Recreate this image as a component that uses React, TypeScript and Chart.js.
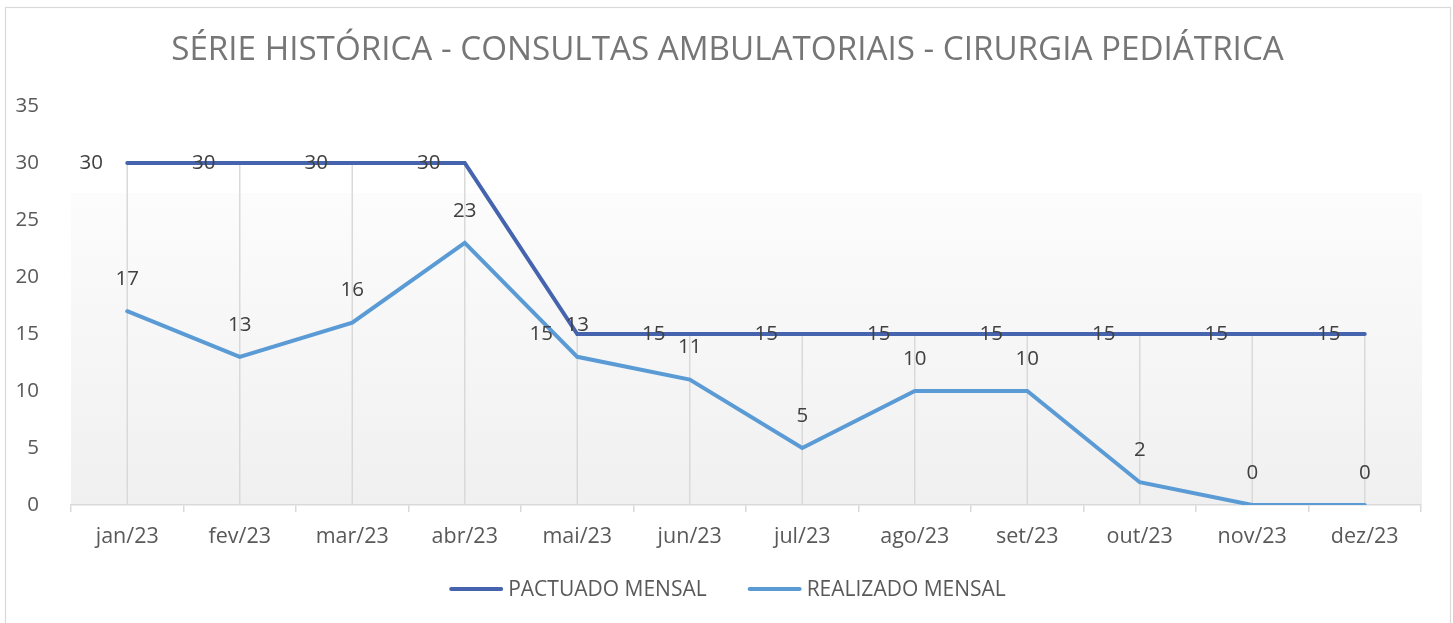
import React, { useEffect, useRef } from "react";
import { Chart, registerables } from "chart.js";

Chart.register(...registerables);

const TITLE = "SÉRIE HISTÓRICA - CONSULTAS AMBULATORIAIS - CIRURGIA PEDIÁTRICA";
const categories = ["jan/23", "fev/23", "mar/23", "abr/23", "mai/23", "jun/23", "jul/23", "ago/23", "set/23", "out/23", "nov/23", "dez/23"];
const pactuado = [30, 30, 30, 30, 15, 15, 15, 15, 15, 15, 15, 15];
const realizado = [17, 13, 16, 23, 13, 11, 5, 10, 10, 2, 0, 0];
const seriesNames = ["PACTUADO MENSAL", "REALIZADO MENSAL"];
const seriesColors = ["#4664AE", "#5B9BD5"];
const yTicks = { min: 0, max: 35, step: 5 };

const FONT = "'Open Sans', 'Noto Sans', sans-serif";

const decorPlugin = {
  id: "decor",
  beforeDraw(chart: any) {
    const { ctx, chartArea, width } = chart;
    ctx.save();
    ctx.fillStyle = "#ffffff";
    ctx.fillRect(0, 0, chart.width, chart.height);
    // outer frame
    ctx.strokeStyle = "#d9d9d9";
    ctx.lineWidth = 1.2;
    ctx.strokeRect(5.5, 7.5, 1445, 700);
    // plot background gradient
    const h = chartArea.bottom - chartArea.top;
    const top = chartArea.top + h * 0.218;
    const g = ctx.createLinearGradient(0, top, 0, chartArea.bottom);
    g.addColorStop(0, "#fcfcfc");
    g.addColorStop(1, "#f0f0f0");
    ctx.fillStyle = g;
    ctx.fillRect(chartArea.left, top, chartArea.right - chartArea.left + 1, chartArea.bottom - top);
    // title
    ctx.fillStyle = "#767676";
    ctx.font = `33.2px ${FONT}`;
    ctx.textAlign = "center";
    ctx.textBaseline = "middle";
    ctx.fillText(TITLE, width / 2 + 1, 51);
    ctx.restore();
  },
  beforeDatasetsDraw(chart: any) {
    const { ctx, chartArea } = chart;
    const m0 = chart.getDatasetMeta(0).data;
    const m1 = chart.getDatasetMeta(1).data;
    ctx.save();
    ctx.strokeStyle = "#d9d9d9";
    ctx.lineWidth = 1.5;
    for (let i = 0; i < m0.length; i++) {
      const y = Math.min(m0[i].y, m1[i].y);
      ctx.beginPath();
      ctx.moveTo(m0[i].x, y);
      ctx.lineTo(m0[i].x, chartArea.bottom);
      ctx.stroke();
    }
    ctx.restore();
  },
  afterDraw(chart: any) {
    const { ctx } = chart;
    ctx.save();
    ctx.font = `20.5px ${FONT}`;
    ctx.fillStyle = "#404040";
    ctx.textBaseline = "middle";
    ctx.textAlign = "center";
    const m0 = chart.getDatasetMeta(0).data;
    const m1 = chart.getDatasetMeta(1).data;
    m0.forEach((p: any, i: number) => {
      ctx.fillText(String(pactuado[i]), p.x - 36, p.y);
    });
    m1.forEach((p: any, i: number) => {
      ctx.fillText(String(realizado[i]), p.x, p.y - 32);
    });
    // legend
    ctx.font = `21px ${FONT}`;
    ctx.fillStyle = "#595959";
    ctx.textAlign = "left";
    const lineW = 54, gap = 5, spacing = 41;
    const widths = seriesNames.map((n) => lineW + gap + ctx.measureText(n).width);
    const total = widths.reduce((a, b) => a + b, 0) + spacing * (widths.length - 1);
    let x = chart.width / 2 + 1 - total / 2;
    const y = 589;
    seriesNames.forEach((n, i) => {
      ctx.strokeStyle = seriesColors[i];
      ctx.lineWidth = 4;
      ctx.lineCap = "round";
      ctx.beginPath();
      ctx.moveTo(x + 2, y);
      ctx.lineTo(x + lineW - 2, y);
      ctx.stroke();
      ctx.fillText(n, x + lineW + gap, y + 1);
      x += widths[i] + spacing;
    });
    ctx.restore();
  },
};

export default function App() {
  const ref = useRef<HTMLCanvasElement>(null);
  useEffect(() => {
    if (!ref.current) return;
    const chart = new Chart(ref.current, {
      type: "line",
      data: {
        labels: categories,
        datasets: [
          { label: seriesNames[0], data: pactuado, borderColor: seriesColors[0], backgroundColor: seriesColors[0], borderWidth: 4, pointRadius: 0, tension: 0, borderCapStyle: "round" },
          { label: seriesNames[1], data: realizado, borderColor: seriesColors[1], backgroundColor: seriesColors[1], borderWidth: 4, pointRadius: 0, tension: 0, borderCapStyle: "round" },
        ],
      },
      options: {
        animation: false,
        responsive: false,
        layout: { padding: { top: 106, right: 32, bottom: 68, left: 0 } },
        plugins: { legend: { display: false }, title: { display: false }, tooltip: { enabled: false } },
        scales: {
          x: {
            offset: true,
            grid: { offset: true, drawOnChartArea: false, drawTicks: true, tickLength: 7, color: "#d9d9d9", lineWidth: 1.5 },
            border: { color: "#d9d9d9", width: 1.5 },
            ticks: { color: "#595959", font: { family: FONT, size: 21.5 }, padding: 12, maxRotation: 0, autoSkip: false },
            afterFit: (s: any) => { s.height = 50; },
          },
          y: {
            min: yTicks.min,
            max: yTicks.max,
            grid: { display: false },
            border: { display: false },
            ticks: { stepSize: yTicks.step, color: "#595959", font: { family: FONT, size: 20.5 }, padding: 24 },
            afterFit: (s: any) => { s.width = 71; },
          },
        },
      },
      plugins: [decorPlugin],
    });
    return () => chart.destroy();
  }, []);
  return (
    <div style={{ position: "absolute", left: 0, top: 0, width: 1453, height: 623 }}>
      <canvas ref={ref} width={1453} height={623} style={{ display: "block" }} />
    </div>
  );
}
